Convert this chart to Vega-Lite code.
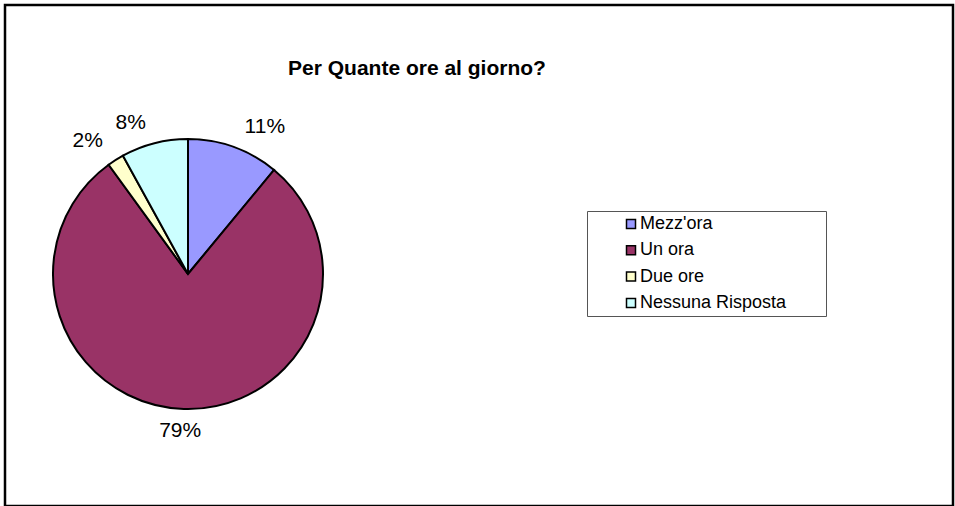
{
  "$schema": "https://vega.github.io/schema/vega-lite/v6.json",
  "width": 948,
  "height": 501,
  "autosize": {"type": "none"},
  "padding": {"left": 5, "top": 5, "right": 2, "bottom": 0},
  "background": "#ffffff",
  "view": {"stroke": "#000000", "strokeWidth": 2.5, "fill": "#ffffff"},
  "title": {
    "text": "Per Quante ore al giorno?",
    "font": "Liberation Sans",
    "fontSize": 21,
    "fontWeight": "bold",
    "color": "#000000",
    "anchor": "middle",
    "frame": "group",
    "dx": -62,
    "offset": -91,
    "baseline": "alphabetic"
  },
  "data": {
    "values": [
      {"categoria": "Mezz'ora", "valore": 11, "n": 1, "etichetta": "11%"},
      {"categoria": "Un ora", "valore": 79, "n": 2, "etichetta": "79%"},
      {"categoria": "Due ore", "valore": 2, "n": 3, "etichetta": "2%"},
      {"categoria": "Nessuna Risposta", "valore": 8, "n": 4, "etichetta": "8%"}
    ]
  },
  "encoding": {
    "theta": {"field": "valore", "type": "quantitative", "stack": true},
    "order": {"field": "n", "type": "quantitative"}
  },
  "layer": [
    {
      "mark": {
        "type": "arc",
        "outerRadius": 135,
        "stroke": "#000000",
        "strokeWidth": 2,
        "x": {"expr": "width*183/948"},
        "y": {"expr": "height*269/501"}
      },
      "encoding": {
        "color": {
          "field": "categoria",
          "type": "nominal",
          "sort": null,
          "scale": {
            "domain": ["Mezz'ora", "Un ora", "Due ore", "Nessuna Risposta"],
            "range": ["#9999FF", "#993366", "#FFFFCC", "#CCFFFF"]
          },
          "legend": {
            "orient": "none",
            "legendX": 582,
            "legendY": 206,
            "title": null,
            "padding": 4,
            "strokeColor": "#555555",
            "fillColor": "#ffffff",
            "symbolType": "square",
            "symbolSize": 81,
            "symbolStrokeColor": "#000000",
            "symbolStrokeWidth": 1.5,
            "symbolOpacity": 1,
            "symbolOffset": 31,
            "labelFont": "Liberation Sans",
            "labelFontSize": 18,
            "labelColor": "#000000",
            "labelOffset": 0,
            "labelLimit": 400,
            "rowPadding": 8.3,
            "labelExpr": "datum.label + '\u2007\u2007\u2007\u00a0\u200b'"
          }
        }
      }
    },
    {
      "mark": {
        "type": "text",
        "radius": 150,
        "x": {"expr": "width*183/948"},
        "y": {"expr": "height*269/501"},
        "font": "Liberation Sans",
        "fontSize": 21,
        "fill": "#000000",
        "align": "center",
        "baseline": "middle",
        "dx": {"expr": "clamp(5*sin(PI*(datum.valore_start+datum.valore_end)/100),-1,1) * (sin(PI*(datum.valore_start+datum.valore_end)/100) > 0 ? 26 : 20)"},
        "dy": {"expr": "cos(PI*(datum.valore_start+datum.valore_end)/100) > 0 ? -6 : 7"}
      },
      "encoding": {
        "detail": {"field": "categoria", "type": "nominal"},
        "text": {"field": "etichetta", "type": "nominal"}
      }
    }
  ],
  "config": {
    "view": {"stroke": "#000000", "strokeWidth": 2.5}
  }
}
